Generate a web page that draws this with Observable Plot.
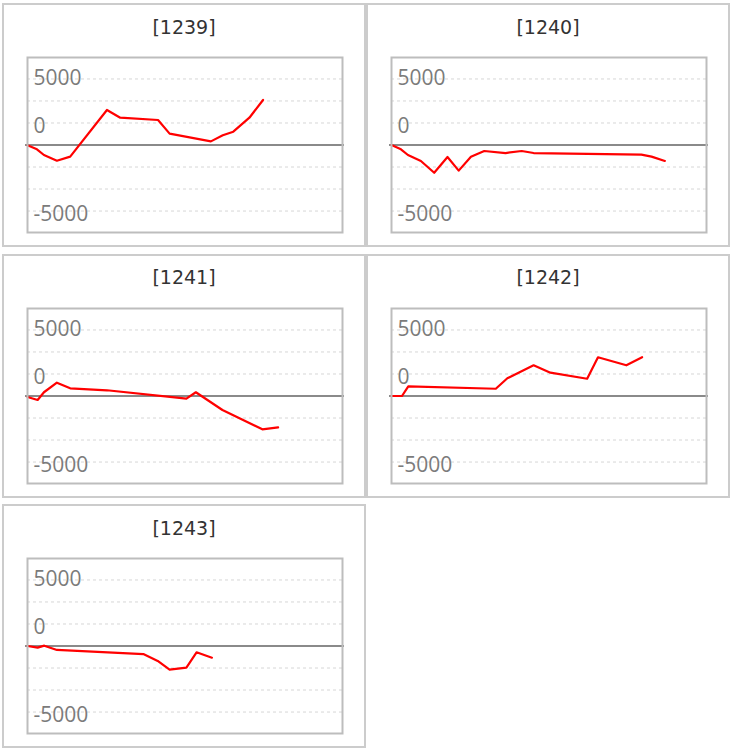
<!DOCTYPE html>
<html>
<head>
<meta charset="utf-8">
<script src="https://cdn.jsdelivr.net/npm/d3@7"></script>
<script src="https://cdn.jsdelivr.net/npm/@observablehq/plot@0.6"></script>
<style>
  html, body { margin: 0; padding: 0; background: #fff; }
  #root { position: relative; width: 732px; height: 753px; }
  .panel { position: absolute; width: 364px; height: 244px; box-sizing: border-box; border: 2px solid #cccccc; background: #fff; }
  .title { position: absolute; left: 0; right: 0; top: 12.5px; text-align: center; font-family: "DejaVu Sans", sans-serif; font-size: 19px; line-height: 19px; color: #333; }
  .chart { position: absolute; left: 21px; top: 50px; }
</style>
</head>
<body>
<div id="root"></div>
<script>
// Panel names
const names = ["[1239]", "[1240]", "[1241]", "[1242]", "[1243]"];

// Series: x positions (days) and values
const x1239 = [0, 2.7, 4.7, 8.4, 12.2, 22.7, 26.5, 37.3, 40.6, 52.4, 55.8, 58.8, 63.4, 67.3];
const y1239 = [-30, -390, -910, -1430, -1060, 3180, 2480, 2270, 1030, 330, 880, 1210, 2480, 4090];

const x1240 = [0, 2.7, 4.7, 8.4, 12.2, 16.0, 19.2, 22.7, 26.5, 32.6, 37.2, 40.6, 71.4, 74.3, 78.1];
const y1240 = [0, -390, -910, -1450, -2520, -1090, -2330, -1060, -545, -730, -545, -730, -880, -1060, -1450];

const x1241 = [0, 2.9, 4.7, 8.4, 12.2, 22.7, 45.4, 48.1, 55.7, 67.1, 71.6];
const y1241 = [-90, -360, 340, 1210, 700, 520, -240, 340, -1270, -3030, -2850];

const x1242 = [0, 3.0, 4.8, 29.8, 33.1, 40.6, 45.4, 55.9, 59.0, 67.1, 71.6];
const y1242 = [0, 0, 880, 660, 1610, 2790, 2120, 1570, 3520, 2790, 3520];

const x1243 = [0, 2.9, 4.8, 8.4, 33.1, 37.2, 40.6, 45.4, 48.3, 52.7];
const y1243 = [0, -150, 30, -360, -730, -1360, -2150, -1970, -570, -1060];

// Axis label texts and where they sit on the value scale
const tickLabels = ["5000", "0", "-5000"];
const tickPositions = [6050, 1700, -6250];

// Dashed gridlines
const gridValues = [-6000, -4000, -2000, 2000, 4000, 6000];

const seriesX = [x1239, x1240, x1241, x1242, x1243];
const seriesY = [y1239, y1240, y1241, y1242, y1243];

const labels = tickLabels.map((t, i) => ({label: t, pos: tickPositions[i]}));

const root = document.getElementById("root");

names.forEach((name, i) => {
  const col = i % 2, row = Math.floor(i / 2);
  const panel = document.createElement("div");
  panel.className = "panel";
  panel.style.left = (2 + col * 364) + "px";
  panel.style.top = (3 + row * 250.5) + "px";

  const title = document.createElement("div");
  title.className = "title";
  title.textContent = name;
  panel.appendChild(title);

  const data = seriesX[i].map((x, j) => ({x, y: seriesY[i][j]}));

  const chart = Plot.plot({
    width: 319,
    height: 179,
    marginLeft: 2,
    marginRight: 2,
    marginTop: 2,
    marginBottom: 2,
    x: {domain: [0, 90], axis: null},
    y: {domain: [-7950, 7950], axis: null},
    style: {background: "transparent", overflow: "visible"},
    marks: [
      Plot.ruleY(gridValues, {stroke: "#d6d6d6", strokeWidth: 1, strokeDasharray: "3,3"}),
      Plot.text(labels, {y: "pos", text: "label", frameAnchor: "left", textAnchor: "start", dx: 6,
        fill: "#7b7b7b", fontSize: 21, fontFamily: "Open Sans"}),
      Plot.ruleY([0], {stroke: "#8a8a8a", strokeWidth: 2, insetLeft: -2, insetRight: -2}),
      Plot.line(data, {x: "x", y: "y", stroke: "#ff0000", strokeWidth: 2.2}),
      Plot.frame({stroke: "#bdbdbd", strokeWidth: 2})
    ]
  });
  const wrap = document.createElement("div");
  wrap.className = "chart";
  wrap.appendChild(chart);
  panel.appendChild(wrap);
  root.appendChild(panel);
});
</script>
</body>
</html>
